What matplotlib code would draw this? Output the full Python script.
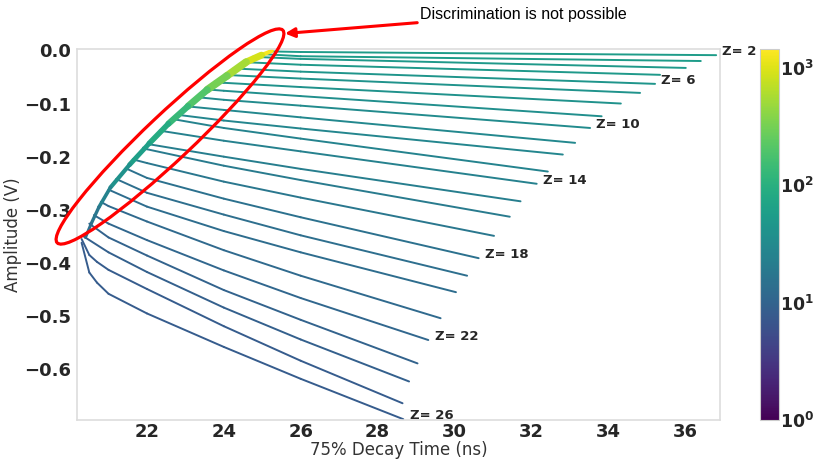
import numpy as np
import matplotlib.pyplot as plt
from matplotlib.collections import LineCollection
from matplotlib.colors import LogNorm
from matplotlib.patches import Ellipse

# charge of each track band
Z_VALUES = list(range(2, 27))

# point where each band leaves the common low-amplitude envelope
START_X = [25.24, 25.0, 24.75, 24.5, 24.25, 24.0, 23.75, 23.5, 23.3, 23.0, 22.77, 22.65, 22.33,
           22.0, 21.9, 21.63, 21.45, 21.2, 21.0, 20.8, 20.62, 20.5, 20.35, 20.3, 20.3]
START_Y = [-0.002, -0.007, -0.012, -0.022, -0.034, -0.046, -0.059, -0.073, -0.088, -0.105,
           -0.121, -0.129, -0.151, -0.176, -0.183, -0.205, -0.222, -0.242, -0.262, -0.285,
           -0.310, -0.326, -0.350, -0.355, -0.362]

# amplitude of each band at fixed decay times (None where the band is absent)
Y_AT_20_5 = [None] * 23 + [-0.385, -0.418]
Y_AT_20_7 = [None] * 23 + [-0.398, -0.437]
Y_AT_21 = [None] * 19 + [-0.293, -0.326, -0.352, -0.380, -0.413, -0.458]
Y_AT_22 = [None] * 14 + [-0.186, -0.212, -0.240, -0.268, -0.294, -0.322, -0.357, -0.386,
                         -0.417, -0.449, -0.495]
Y_AT_24 = [None] * 6 + [-0.061, -0.076, -0.093, -0.112, -0.132, -0.146, -0.170, -0.200,
                        -0.217, -0.247, -0.279, -0.309, -0.340, -0.376, -0.414, -0.451,
                        -0.484, -0.519, -0.558]
Y_AT_26 = [-0.003, -0.011, -0.016, -0.027, -0.040, -0.053, -0.069, -0.086, -0.104, -0.126,
           -0.147, -0.166, -0.190, -0.223, -0.244, -0.277, -0.314, -0.348, -0.380, -0.424,
           -0.466, -0.507, -0.544, -0.584, -0.618]

# far end of each band
END_X = [36.81, 36.41, 36.02, 35.35, 35.22, 34.83, 34.33, 33.83, 33.53, 33.14, 32.82, 32.43,
         32.14, 31.72, 31.44, 31.03, 30.63, 30.33, 30.04, 29.64, 29.32, 29.04, 28.82, 28.65, 28.67]
END_Y = [-0.009, -0.020, -0.033, -0.046, -0.063, -0.080, -0.100, -0.124, -0.146, -0.174,
         -0.196, -0.228, -0.251, -0.284, -0.313, -0.349, -0.391, -0.424, -0.455, -0.504,
         -0.545, -0.589, -0.623, -0.664, -0.694]

# typical counts per bin along each band
BAND_COUNTS = [55, 55, 50, 50, 45, 42, 40, 36, 33, 30, 28, 26, 24, 22, 20, 18, 15, 14, 13,
               12, 11, 10, 9, 8, 8]

# piled-up region where the bands overlap
ENV_X = [25.25, 24.98, 24.58, 24.08, 23.57, 23.07, 22.56, 22.06, 21.55, 21.05, 20.75, 20.55, 20.40]
ENV_Y = [-0.001, -0.009, -0.022, -0.048, -0.074, -0.105, -0.138, -0.175, -0.215, -0.258,
         -0.295, -0.326, -0.352]
ENV_COUNTS = [1300, 900, 550, 320, 200, 130, 85, 60, 40, 26, 18, 14, 12]
ENV_WIDTH = [3.0, 5.0, 5.5, 5.5, 5.0, 4.5, 4.0, 3.5, 3.0, 2.6, 2.4, 2.2, 2.2]

LABELED_Z = [2, 6, 10, 14, 18, 22, 26]

plt.rcParams['font.family'] = ['DejaVu Sans']
fig = plt.figure(figsize=(8.17, 4.59), dpi=100)
ax = fig.add_axes([77 / 817, 39 / 459, 643 / 817, 371 / 459])
cax = fig.add_axes([760 / 817, 39 / 459, 19 / 817, 371 / 459])

cmap = plt.get_cmap('viridis')
norm = LogNorm(vmin=1, vmax=1450)

columns = [(20.5, Y_AT_20_5), (20.7, Y_AT_20_7), (21.0, Y_AT_21), (22.0, Y_AT_22),
           (24.0, Y_AT_24), (26.0, Y_AT_26)]
segs, cols = [], []
for i, z in enumerate(Z_VALUES):
    xs, ys = [START_X[i]], [START_Y[i]]
    for xc, yc in columns:
        if yc[i] is not None and START_X[i] < xc < END_X[i]:
            xs.append(xc)
            ys.append(yc[i])
    xs.append(END_X[i])
    ys.append(END_Y[i])
    pts = np.column_stack([xs, ys])
    for a, b in zip(pts[:-1], pts[1:]):
        segs.append([a, b])
        cols.append(cmap(norm(BAND_COUNTS[i])))
ax.add_collection(LineCollection(segs, colors=cols, linewidths=1.4, capstyle='round',
                                 joinstyle='round'))

env = np.column_stack([ENV_X, ENV_Y])
env_segs = [[a, b] for a, b in zip(env[:-1], env[1:])]
env_cols = [cmap(norm(c)) for c in ENV_COUNTS[:-1]]
ax.add_collection(LineCollection(env_segs, colors=env_cols, linewidths=ENV_WIDTH[:-1],
                                 capstyle='round'))

for i, z in enumerate(Z_VALUES):
    if z in LABELED_Z:
        ax.annotate(f'Z= {z}', (END_X[i], END_Y[i]), xytext=(4.5, 2.5), textcoords='offset points',
                    ha='left', va='center', fontsize=9.5, fontweight='bold', color='#262626',
                    annotation_clip=False)

ax.set_xlim(20.18, 36.91)
ax.set_ylim(-0.6955, 0.0026)
ax.set_xticks([22, 24, 26, 28, 30, 32, 34, 36])
ax.set_yticks([0.0, -0.1, -0.2, -0.3, -0.4, -0.5, -0.6])
ax.tick_params(length=0, labelsize=13, colors='#262626')
ax.tick_params(axis='x', pad=2)
ax.tick_params(axis='y', pad=4)
for lab in ax.get_xticklabels() + ax.get_yticklabels():
    lab.set_fontweight('bold')
for sp in ax.spines.values():
    sp.set_color('#dddddd')
    sp.set_linewidth(1.2)
ax.set_xlabel('75% Decay Time (ns)', fontsize=12, color='#333333', labelpad=0)
ax.set_ylabel('Amplitude (V)', fontsize=12, color='#333333', labelpad=2)

sm = plt.cm.ScalarMappable(norm=norm, cmap=cmap)
cb = fig.colorbar(sm, cax=cax)
cb.set_ticks([1, 10, 100, 1000])
cb.set_ticklabels([r'$\mathbf{10^{0}}$', r'$\mathbf{10^{1}}$', r'$\mathbf{10^{2}}$', r'$\mathbf{10^{3}}$'])
cb.ax.tick_params(length=0, labelsize=12.5, colors='#262626', pad=1)
cb.ax.minorticks_off()
cb.outline.set_edgecolor('#cccccc')

# ellipse marking the overlap region
ell = Ellipse((1.70, 3.225), 3.10, 0.46, angle=43.3, transform=fig.dpi_scale_trans,
              fill=False, edgecolor='red', linewidth=2.3, clip_on=False)
fig.add_artist(ell)
ax.annotate('Discrimination is not possible', xy=(285, 425.5), xycoords='figure pixels',
            xytext=(420, 445), textcoords='figure pixels', fontsize=11.5, color='black',
            family=['Liberation Sans', 'DejaVu Sans'], va='center', ha='left',
            arrowprops=dict(arrowstyle='-|>', color='red', lw=2.2, mutation_scale=14,
                            shrinkA=0, shrinkB=0))

fig.savefig('out.png', dpi=100)
